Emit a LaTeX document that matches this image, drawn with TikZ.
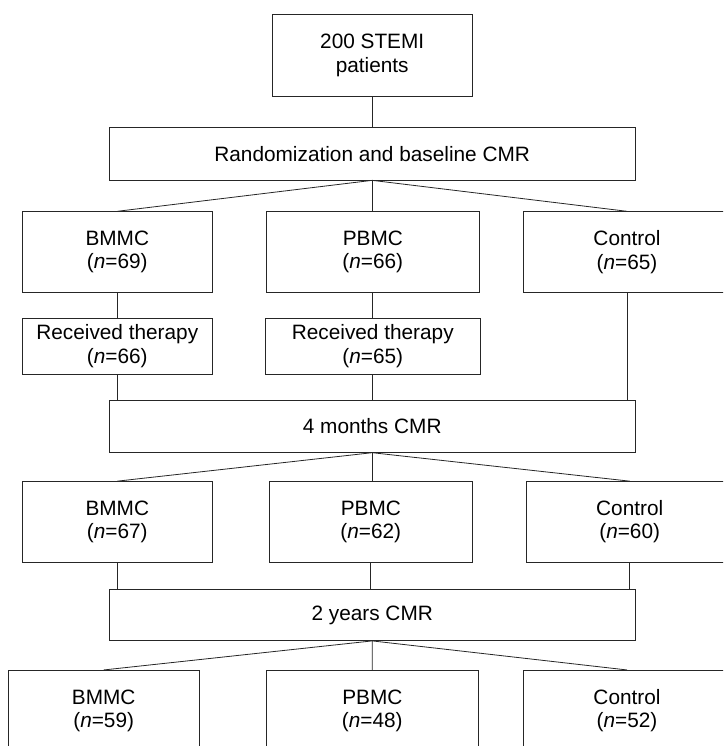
\documentclass[tikz,border=0pt]{standalone}
\usepackage{fontspec}
\setmainfont{Liberation Sans}
\begin{document}
\begin{tikzpicture}[x=1pt,y=-1pt,
  box/.style={draw=black!85, line width=0.8pt, rectangle, inner sep=0pt, align=center,
    font=\fontsize{20.8pt}{23.5pt}\selectfont},
  link/.style={draw=black!85, line width=0.8pt}]
\useasboundingbox (0,0) rectangle (723,746);
\clip (0,0) rectangle (723,746);
% top
\node[box, minimum width=200.5pt, minimum height=81.3pt] (top) at (372.2,55.3) {200 STEMI\\patients};
\node[box, minimum width=526.3pt, minimum height=52.3pt] (rand) at (372.2,153.8) {Randomization and baseline CMR};
% row 1
\node[box, minimum width=189.3pt, minimum height=80.8pt] (r1b) at (117.3,252.1) {BMMC\\(\textit{n}=69)};
\node[box, minimum width=212.3pt, minimum height=80.8pt] (r1p) at (372.8,252.1) {PBMC\\(\textit{n}=66)};
\node[box, minimum width=206.6pt, minimum height=80.8pt] (r1c) at (627,252.1) {Control\\(\textit{n}=65)};
% received therapy
\node[box, minimum width=189.3pt, minimum height=55.7pt] (rtb) at (117.3,346.2) {Received therapy\\(\textit{n}=66)};
\node[box, minimum width=214.3pt, minimum height=55.7pt] (rtp) at (372.8,346.2) {Received therapy\\(\textit{n}=65)};
% 4 months
\node[box, minimum width=526.3pt, minimum height=51.6pt] (m4) at (372.2,426.5) {4 months CMR};
% row 2
\node[box, minimum width=189.3pt, minimum height=80.5pt] (r2b) at (117.3,521.8) {BMMC\\(\textit{n}=67)};
\node[box, minimum width=203pt, minimum height=80.5pt] (r2p) at (370.8,521.8) {PBMC\\(\textit{n}=62)};
\node[box, minimum width=206.8pt, minimum height=80.5pt] (r2c) at (629.7,521.8) {Control\\(\textit{n}=60)};
% 2 years
\node[box, minimum width=526.3pt, minimum height=50.8pt] (y2) at (372.2,615.1) {2 years CMR};
% row 3
\node[box, minimum width=190.7pt, minimum height=80.7pt] (r3b) at (103.7,710.7) {BMMC\\(\textit{n}=59)};
\node[box, minimum width=211.3pt, minimum height=80.7pt] (r3p) at (372.3,710.7) {PBMC\\(\textit{n}=48)};
\node[box, minimum width=206.6pt, minimum height=80.7pt] (r3c) at (627,710.7) {Control\\(\textit{n}=52)};
% connectors
\draw[link] (top.south) -- (rand.north);
\draw[link] (rand.south) -- (r1b.north);
\draw[link] (rand.south) -- (rand.south |- r1p.north);
\draw[link] (rand.south) -- (r1c.north);
\draw[link] (r1b.south) -- (rtb.north);
\draw[link] (r1p.south) -- (rtp.north);
\draw[link] (rtb.south) -- (rtb.south |- m4.north);
\draw[link] (rtp.south) -- (rtp.south |- m4.north);
\draw[link] (r1c.south) -- (r1c.south |- m4.north);
\draw[link] (m4.south) -- (r2b.north);
\draw[link] (m4.south) -- (m4.south |- r2p.north);
\draw[link] (m4.south) -- (r2c.north);
\draw[link] (r2b.south) -- (r2b.south |- y2.north);
\draw[link] (r2p.south) -- (r2p.south |- y2.north);
\draw[link] (r2c.south) -- (r2c.south |- y2.north);
\draw[link] (y2.south) -- (r3b.north);
\draw[link] (y2.south) -- (r3p.north);
\draw[link] (y2.south) -- (r3c.north);
\end{tikzpicture}
\end{document}
